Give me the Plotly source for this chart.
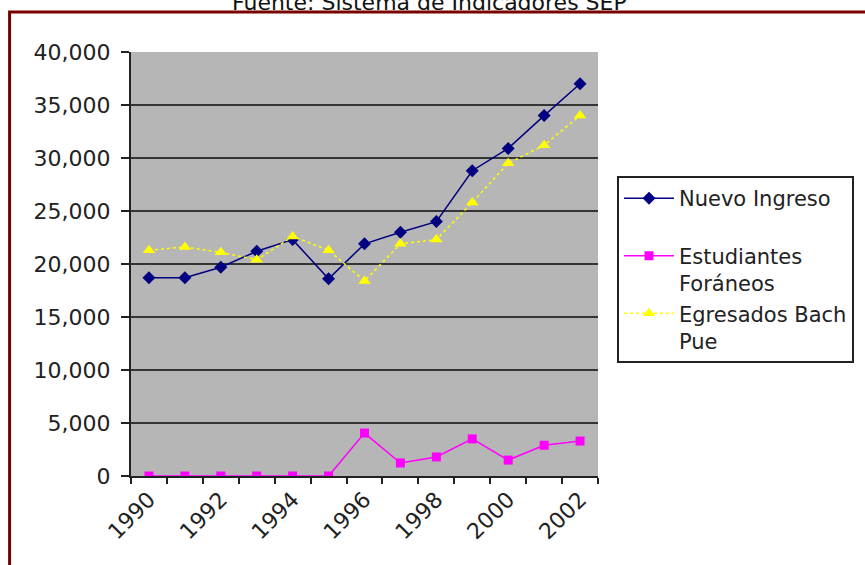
import plotly.graph_objects as go

years = [1990, 1991, 1992, 1993, 1994, 1995, 1996, 1997, 1998, 1999, 2000, 2001, 2002]
nuevo_ingreso = [18700, 18700, 19700, 21200, 22300, 18600, 21900, 23000, 24000, 28800, 30900, 34000, 37000]
estudiantes_foraneos = [0, 0, 0, 0, 0, 0, 4050, 1230, 1800, 3500, 1500, 2900, 3300]
egresados_bach_pue = [21300, 21600, 21100, 20400, 22600, 21300, 18400, 21900, 22300, 25800, 29500, 31200, 34000]
label_years = [1990, 1992, 1994, 1996, 1998, 2000, 2002]
y_ticks = [0, 5000, 10000, 15000, 20000, 25000, 30000, 35000, 40000]

FONT = "DejaVu Sans"
FS = 22

fig = go.Figure()
fig.add_trace(go.Scatter(
    x=years, y=nuevo_ingreso, name="Nuevo Ingreso<br> ", mode="lines+markers",
    line=dict(color="#000080", width=1.5),
    marker=dict(symbol="diamond", size=10, color="#000080"),
    legendgroup="a"))
fig.add_trace(go.Scatter(
    x=years, y=estudiantes_foraneos, name="Estudiantes<br>Foráneos", mode="lines+markers",
    line=dict(color="#FF00FF", width=1.5),
    marker=dict(symbol="square", size=9, color="#FF00FF"),
    legendgroup="b"))
fig.add_trace(go.Scatter(
    x=years, y=egresados_bach_pue, name="Egresados Bach<br>Pue", mode="lines+markers",
    line=dict(color="#FFFF00", width=1.5, dash="dot"),
    marker=dict(symbol="triangle-up", size=11, color="#FFFF00"),
    legendgroup="c"))

fig.update_layout(
    width=865, height=565,
    margin=dict(l=131, r=267, t=52, b=89),
    paper_bgcolor="white",
    plot_bgcolor="#b6b6b6",
    font=dict(family=FONT, size=FS, color="#222222"),
    showlegend=True,
    legend=dict(
        x=617 / 865, xanchor="left", y=1 - 176 / 565, yanchor="top",
        xref="container", yref="container",
        bgcolor="rgba(0,0,0,0)", bordercolor="#222222", borderwidth=2,
        font=dict(family=FONT, size=21, color="#222222"),
        tracegroupgap=0, valign="top", itemwidth=50,
    ),
    xaxis=dict(
        range=[1989.5, 2002.5],
        tickmode="array", tickvals=label_years, ticktext=[str(y) for y in label_years],
        tickangle=-45, ticks="", showgrid=False, zeroline=False,
        showline=True, linecolor="#222222", linewidth=2,
        tickfont=dict(family=FONT, size=FS, color="#222222"),
        minor=dict(tick0=1989.5, dtick=1, ticks="outside", ticklen=6, tickcolor="#222222", tickwidth=2, showgrid=False),
    ),
    yaxis=dict(
        range=[0, 40000], tickmode="array", tickvals=y_ticks,
        tickformat=",", ticks="outside", ticklen=8, tickcolor="#222222", tickwidth=2,
        ticklabelstandoff=6,
        showgrid=True, gridcolor="#353535", gridwidth=2,
        zeroline=False, showline=True, linecolor="#222222", linewidth=2,
        tickfont=dict(family=FONT, size=FS, color="#222222"),
    ),
)

# outer frame
fig.add_shape(type="rect", xref="paper", yref="paper",
              x0=-0.26, x1=1.7, y0=-0.3, y1=1.0943,
              line=dict(color="#7a0000", width=3), fillcolor="rgba(0,0,0,0)", layer="above")

fig.add_annotation(text="Fuente: Sistema de Indicadores SEP", xref="paper", yref="paper",
                   x=0.64, y=1.083, xanchor="center", yanchor="bottom", showarrow=False,
                   font=dict(family=FONT, size=22, color="#111111"))

fig.write_html("out.html", config={"displayModeBar": False},
               post_script="document.body.style.margin='0';document.body.style.overflow='hidden';")
